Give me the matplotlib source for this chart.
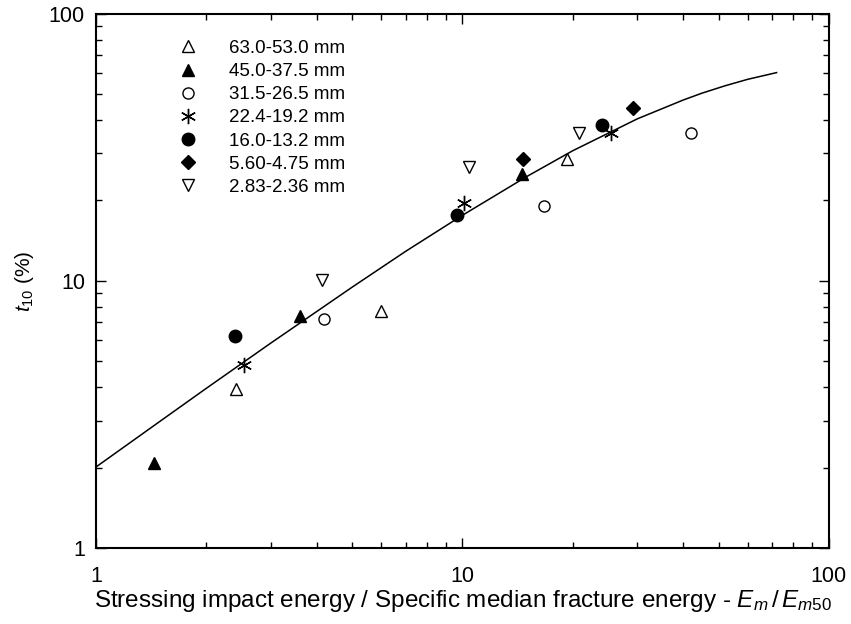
import numpy as np
import matplotlib.pyplot as plt
from matplotlib.ticker import LogLocator, NullFormatter, FixedLocator

plt.rcParams['font.family'] = ['Liberation Sans', 'DejaVu Sans']
plt.rcParams['mathtext.fontset'] = 'custom'
plt.rcParams['mathtext.rm'] = 'Liberation Sans'
plt.rcParams['mathtext.it'] = 'Liberation Sans:italic'

# -------- DATA --------
labels = ["63.0-53.0 mm", "45.0-37.5 mm", "31.5-26.5 mm", "22.4-19.2 mm",
          "16.0-13.2 mm", "5.60-4.75 mm", "2.83-2.36 mm"]

x_63 = [2.41, 6.0, 19.3]
y_63 = [3.94, 7.72, 28.6]
x_45 = [1.44, 3.60, 14.5]
y_45 = [2.08, 7.39, 25.2]
x_31 = [4.19, 16.7, 42.0]
y_31 = [7.2, 19.1, 35.8]
x_22 = [2.53, 10.1, 25.4]
y_22 = [4.84, 19.6, 35.8]
x_16 = [2.39, 9.66, 24.0]
y_16 = [6.22, 17.7, 38.4]
x_56 = [14.6, 29.2]
y_56 = [28.6, 44.5]
x_28 = [4.14, 10.4, 20.8]
y_28 = [10.1, 26.7, 35.8]

# fitted curve
curve_x = [1, 1.5, 2, 3, 5, 7, 10, 15, 20, 30, 40, 45, 52, 60, 72]
curve_y = [2.01, 2.99, 3.96, 5.85, 9.47, 12.9, 17.6, 24.6, 30.7, 40.4, 47.5, 50.4, 53.7, 56.8, 60.2]

# -------- PLOT --------
fig = plt.figure(figsize=(8.51, 6.24), dpi=100)
ax = fig.add_axes([0.1128, 0.1218, 0.8612, 0.8562])

ax.plot(curve_x, curve_y, color='black', lw=1.1)

ms = 8
series = [
    (x_63, y_63, dict(marker='^', mfc='white', mec='black', mew=1.0)),
    (x_45, y_45, dict(marker='^', mfc='black', mec='black')),
    (x_31, y_31, dict(marker='o', mfc='white', mec='black', mew=1.0)),
    (x_22, y_22, dict(marker=(6, 2, 0), mfc='none', mec='black', mew=1.0, ms=ms + 3)),
    (x_16, y_16, dict(marker='o', mfc='black', mec='black', ms=ms + 1)),
    (x_56, y_56, dict(marker='D', mfc='black', mec='black', ms=ms - 1)),
    (x_28, y_28, dict(marker='v', mfc='white', mec='black', mew=1.0)),
]
for (xs, ys, st), lab in zip(series, labels):
    kw = dict(ms=ms)
    kw.update(st)
    ax.plot(xs, ys, ls='none', label=lab, **kw)

ax.set_xscale('log')
ax.set_yscale('log')
ax.set_xlim(1, 100)
ax.set_ylim(1, 100)

ax.xaxis.set_major_locator(FixedLocator([1, 10, 100]))
ax.yaxis.set_major_locator(FixedLocator([1, 10, 100]))
ax.set_xticklabels(['1', '10', '100'])
ax.set_yticklabels(['1', '10', '100'])
ax.xaxis.set_minor_locator(LogLocator(base=10, subs=np.arange(2, 10)))
ax.yaxis.set_minor_locator(LogLocator(base=10, subs=np.arange(2, 10)))
ax.xaxis.set_minor_formatter(NullFormatter())
ax.yaxis.set_minor_formatter(NullFormatter())

ax.tick_params(which='both', direction='in', top=True, right=True, width=1.0)
ax.tick_params(which='major', length=7, labelsize=15.5)
ax.tick_params(axis='x', which='major', pad=13)
ax.tick_params(axis='y', which='major', pad=8)
ax.tick_params(which='minor', length=4)
for sp in ax.spines.values():
    sp.set_linewidth(1.5)

ax.set_xlabel(r'Stressing impact energy / Specific median fracture energy - $E_m\,/\,E_{m50}$',
              fontsize=17.5, labelpad=1)
ax.set_ylabel(r'$t_{10}$ (%)', fontsize=15, labelpad=9)

ax.legend(loc='upper left', bbox_to_anchor=(0.09, 0.965), frameon=False,
          fontsize=13.5, labelspacing=0.32, handletextpad=1.2, borderaxespad=0)

fig.savefig('out.png', dpi=100)
